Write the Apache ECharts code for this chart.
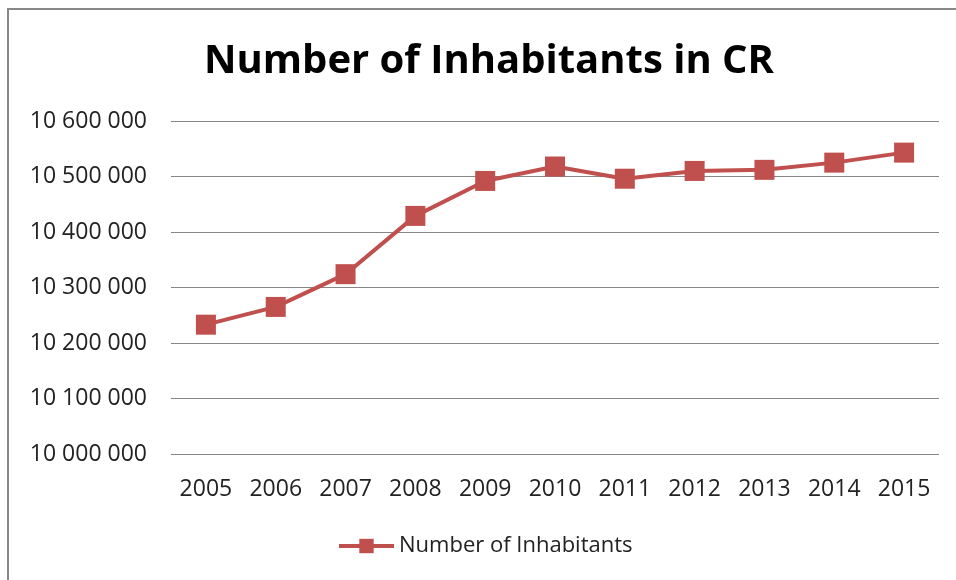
<!DOCTYPE html>
<html>
<head>
<meta charset="utf-8">
<script src="https://cdn.jsdelivr.net/npm/echarts@6/dist/echarts.min.js"></script>
<style>
  html, body { margin: 0; padding: 0; background: #fff; }
  #main { width: 956px; height: 580px; }
</style>
</head>
<body>
<div id="main"></div>
<script>
// values
var years = ['2005', '2006', '2007', '2008', '2009', '2010', '2011', '2012', '2013', '2014', '2015'];
var inhabitants = [10233000, 10265000, 10324000, 10429000, 10492000, 10518000, 10496000, 10510000, 10512000, 10525000, 10543000];
var seriesName = 'Number of Inhabitants';

var myChart = echarts.init(document.getElementById('main'));

function fmt(v) {
  return String(v).replace(/\B(?=(\d{3})+(?!\d))/g, ' ');
}

const option = {
  backgroundColor: '#fff',
  textStyle: { fontFamily: 'Open Sans' },
  title: {
    text: 'Number of Inhabitants in CR',
    left: 199,
    top: 37,
    textStyle: {
      fontFamily: 'Open Sans',
      fontSize: 40,
      fontWeight: 'bold',
      color: '#000'
    }
  },
  legend: {
    data: [seriesName],
    bottom: 18,
    left: 332,
    itemWidth: 55,
    itemHeight: 18,
    itemGap: 6,
    lineStyle: { width: 4 },
    textStyle: { fontSize: 22, color: '#222' }
  },
  grid: {
    left: 171,
    right: 17,
    top: 121,
    bottom: 126
  },
  xAxis: [{
    type: 'category',
    boundaryGap: true,
    data: years,
    axisLine: { show: false },
    axisTick: { show: false },
    axisLabel: { fontSize: 23, color: '#222', margin: 24 }
  }],
  yAxis: [{
    type: 'value',
    min: 10000000,
    max: 10600000,
    interval: 100000,
    axisLine: { show: false },
    axisTick: { show: false },
    splitLine: { lineStyle: { color: '#868686', width: 1 } },
    axisLabel: { fontSize: 23, color: '#222', margin: 24, formatter: fmt }
  }],
  series: [{
    name: seriesName,
    type: 'line',
    data: inhabitants,
    symbol: 'rect',
    symbolSize: 20,
    lineStyle: { width: 4, color: '#C0504D' },
    itemStyle: { color: '#C0504D' }
  }],
  graphic: [{
    type: 'polyline',
    shape: { points: [[8, 580], [8, 9], [956, 9]] },
    style: { stroke: '#888', lineWidth: 2, fill: null }
  }],
  color: ['#C0504D']
};

myChart.setOption(option);
window.addEventListener('resize', () => {
  myChart.resize();
});
</script>
</body>
</html>
